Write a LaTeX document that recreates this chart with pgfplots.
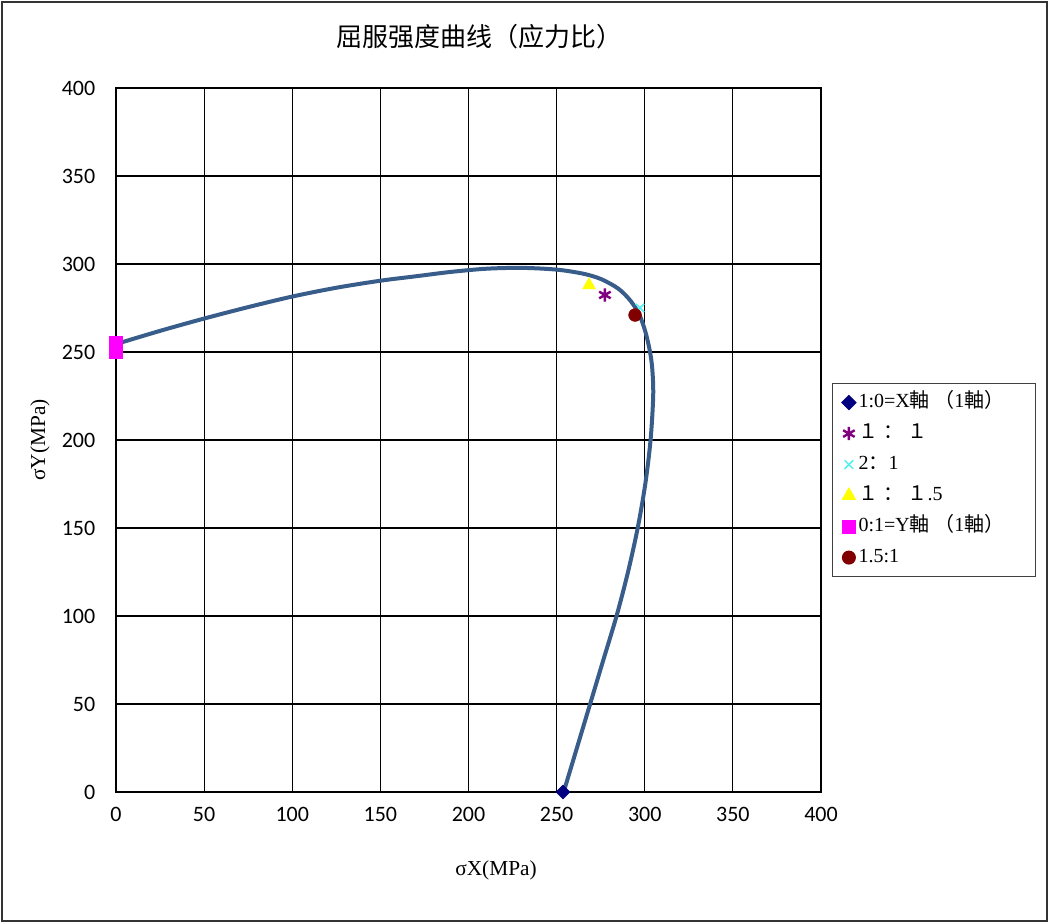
\documentclass[border=0pt]{standalone}
\usepackage{fontspec}
\setmainfont{Liberation Serif}
\newfontfamily\cjk{Noto Sans CJK SC}
\newfontfamily\tickfont{Carlito}
\usepackage{pgfplots}
\pgfplotsset{compat=1.18}
\definecolor{curvec}{RGB}{56,93,138}
\definecolor{navyc}{RGB}{0,0,128}
\definecolor{purplec}{RGB}{128,0,128}
\definecolor{cyanc}{RGB}{80,240,240}
\definecolor{yellowc}{RGB}{255,255,0}
\definecolor{magentac}{RGB}{255,0,255}
\definecolor{darkredc}{RGB}{128,0,0}
\begin{document}
\begin{tikzpicture}
\useasboundingbox (0,0) rectangle (786.75pt,692.25pt);
\draw[black!80, line width=1.5pt] (1.5pt,1.5pt) rectangle (785.25pt,690.75pt);
\begin{axis}[
  at={(87pt,98.25pt)}, anchor=south west,
  scale only axis, width=528.75pt, height=528pt,
  xmin=0, xmax=400, ymin=0, ymax=400,
  xtick={0,50,...,400}, ytick={0,50,...,400},
  grid=major,
  major grid style={black, line width=0.8pt},
  axis line style={black, line width=1pt},
  tick style={draw=none},
  /pgf/number format/assume math mode=true,
  ticklabel style={font=\tickfont\fontsize{16.5}{18}\selectfont},
  xticklabel style={yshift=-8pt},
  yticklabel style={xshift=-12pt},
  xlabel={σX(MPa)},
  ylabel={σY(MPa)},
  label style={font=\fontsize{16}{18}\selectfont},
  xlabel style={at={(axis description cs:0.539,-0.1108)}, anchor=center},
  ylabel style={at={(axis description cs:-0.1078,0.5)}, anchor=center},
  title={{\cjk 屈服强度曲线（应力比）}},
  title style={at={(axis description cs:0.515,1.061)}, anchor=center, font=\fontsize{19.5}{21}\selectfont},
  legend style={at={(axis description cs:1.0156,0.581)}, anchor=north west,
    draw=black!75, line width=0.9pt, font=\fontsize{15}{16}\selectfont,
    row sep=4.75pt, inner ysep=5pt, inner xsep=7pt,
    nodes={inner sep=2pt, text height=11pt, text depth=3.5pt}},
  legend cell align=left,
  legend image code/.code={\draw[mark repeat=2,mark phase=2,#1] plot coordinates {(0pt,0pt)(5pt,0pt)(10pt,0pt)};},
]
\addplot[only marks, mark=square*, mark options={rotate=45}, mark size=3.7pt, color=navyc] coordinates {(253.6,0)};
\addlegendentry{\makebox[124pt][l]{1:0=X{\cjk 軸 （}1{\cjk 軸）}}}
\addplot[only marks, mark=asterisk, mark size=5pt, line width=1.8pt, color=purplec] coordinates {(277.4,282.4)};
\addlegendentry{{\cjk １ ： １}}
\addplot[only marks, mark=x, mark size=4.5pt, line width=1.1pt, color=cyanc] coordinates {(297.3,275)};
\addlegendentry{2{\cjk ：}1}
\addplot[only marks, mark=triangle*, mark size=5.5pt, color=yellowc] coordinates {(268.4,288)};
\addlegendentry{{\cjk １ ： １}.5}
\addplot[only marks, mark=square*, mark size=4.8pt, color=magentac] coordinates {(0,255.5) (0,250)};
\addlegendentry{0:1=Y{\cjk 軸 （}1{\cjk 軸）}}
\addplot[only marks, mark=*, mark size=4.8pt, color=darkredc] coordinates {(294.5,271)};
\addlegendentry{1.5:1}
\addplot[smooth, color=curvec, line width=3pt, forget plot] coordinates {
(0,254.5) (25,262) (50,269) (75,275.5) (100,281.5) (125,286.5) (150,290.5)
(170,293) (190,295.5) (210,297.3) (230,297.8) (250,296.8) (265,294.5)
(275,291.5) (285,286) (292,279) (297,271) (300.5,261) (303,250) (304.3,240)
(304.8,225) (303.3,200) (300.3,175) (296,150) (290.5,125) (284,100) (276.5,75)
(269,50) (261.5,25) (254,0)};
\end{axis}
\end{tikzpicture}
\end{document}
